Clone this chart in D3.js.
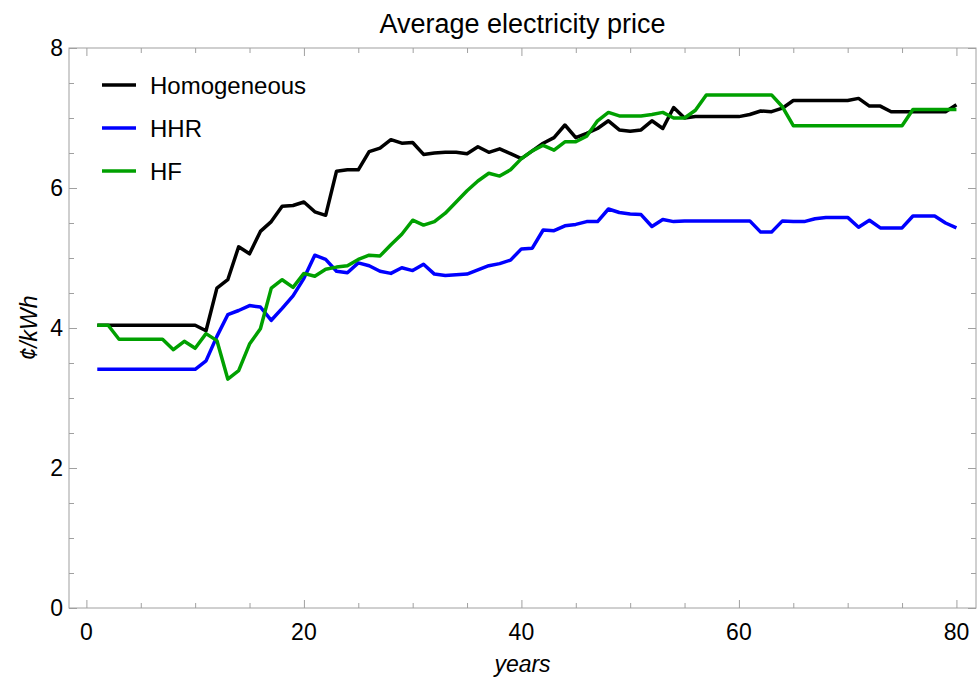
<!DOCTYPE html>
<html>
<head>
<meta charset="utf-8">
<script src="https://cdn.jsdelivr.net/npm/d3@7"></script>
<style>
  html, body { margin: 0; padding: 0; background: #fff; }
  svg { display: block; font-family: 'Liberation Sans', Arial, sans-serif; }
</style>
</head>
<body>
<div id="chart"></div>
<script>
// Values, one per year (1..80)
const years = d3.range(1, 81);

const homogeneous = [
  4.04, 4.04, 4.04, 4.04, 4.04, 4.04, 4.04, 4.04, 4.04, 4.04,
  3.96, 4.57, 4.69, 5.16, 5.06, 5.38, 5.52, 5.74, 5.75, 5.80,
  5.66, 5.61, 6.24, 6.26, 6.26, 6.52, 6.57, 6.69, 6.64, 6.65,
  6.48, 6.50, 6.51, 6.51, 6.49, 6.59, 6.51, 6.56, 6.49, 6.42,
  6.53, 6.64, 6.72, 6.90, 6.72, 6.78, 6.85, 6.96, 6.83, 6.81,
  6.83, 6.96, 6.85, 7.15, 7.00, 7.02, 7.02, 7.02, 7.02, 7.02,
  7.05, 7.10, 7.09, 7.14, 7.25, 7.25, 7.25, 7.25, 7.25, 7.25,
  7.28, 7.17, 7.17, 7.09, 7.09, 7.09, 7.09, 7.09, 7.09, 7.19
];

const hhr = [
  3.41, 3.41, 3.41, 3.41, 3.41, 3.41, 3.41, 3.41, 3.41, 3.41,
  3.53, 3.88, 4.19, 4.25, 4.32, 4.30, 4.11, 4.28, 4.46, 4.71,
  5.04, 4.98, 4.81, 4.79, 4.93, 4.89, 4.81, 4.78, 4.86, 4.82,
  4.91, 4.77, 4.75, 4.76, 4.77, 4.83, 4.89, 4.92, 4.97, 5.13,
  5.14, 5.40, 5.39, 5.46, 5.48, 5.52, 5.52, 5.70, 5.65, 5.63,
  5.62, 5.45, 5.55, 5.52, 5.53, 5.53, 5.53, 5.53, 5.53, 5.53,
  5.53, 5.37, 5.37, 5.53, 5.52, 5.52, 5.56, 5.58, 5.58, 5.58,
  5.44, 5.54, 5.43, 5.43, 5.43, 5.60, 5.60, 5.60, 5.50, 5.43
];

const hf = [
  4.04, 4.04, 3.84, 3.84, 3.84, 3.84, 3.84, 3.69, 3.81, 3.71,
  3.92, 3.82, 3.27, 3.39, 3.77, 3.99, 4.57, 4.69, 4.58, 4.78,
  4.74, 4.84, 4.87, 4.89, 4.98, 5.04, 5.03, 5.19, 5.34, 5.54,
  5.47, 5.52, 5.64, 5.80, 5.96, 6.10, 6.21, 6.17, 6.26, 6.42,
  6.53, 6.61, 6.54, 6.66, 6.66, 6.74, 6.96, 7.08, 7.03, 7.03,
  7.03, 7.05, 7.08, 7.00, 7.00, 7.11, 7.33, 7.33, 7.33, 7.33,
  7.33, 7.33, 7.33, 7.16, 6.89, 6.89, 6.89, 6.89, 6.89, 6.89,
  6.89, 6.89, 6.89, 6.89, 6.89, 7.12, 7.12, 7.12, 7.12, 7.12
];

const xMajorTicks = [0, 20, 40, 60, 80];
const yMajorTicks = [0, 2, 4, 6, 8];

const seriesNames = ['Homogeneous', 'HHR', 'HF'];
const seriesValues = [homogeneous, hhr, hf];
const seriesColors = ['#000000', '#0000ff', '#00a000'];

const width = 979;
const height = 679;
const margin = { top: 48, right: 3, bottom: 71, left: 69 };
const innerW = width - margin.left - margin.right;
const innerH = height - margin.top - margin.bottom;

const x = d3.scaleLinear().domain([-1.6, 81.8]).range([0, innerW]);
const y = d3.scaleLinear().domain([0, 8]).range([innerH, 0]);

const xMinor = d3.range(0, 81, 5).filter(v => !xMajorTicks.includes(v));
const yMinor = d3.range(0, 8.01, 0.5).filter(v => !yMajorTicks.includes(v));

const root = d3.select('#chart')
  .append('svg')
  .attr('width', width)
  .attr('height', height);

const svg = root.append('g')
  .attr('transform', `translate(${margin.left},${margin.top})`);

const frameColor = '#a0a0a0';

// Ticks on all four sides, pointing inward
const tickAxis = (axis, values, size, transform) => {
  svg.append('g')
    .attr('transform', transform || null)
    .call(axis.tickValues(values).tickSize(size).tickFormat(''))
    .call(g => g.select('.domain').remove())
    .call(g => g.selectAll('.tick line').attr('stroke', frameColor).attr('stroke-width', 1));
};

tickAxis(d3.axisBottom(x), xMajorTicks, -8, `translate(0,${innerH})`);
tickAxis(d3.axisBottom(x), xMinor, -5, `translate(0,${innerH})`);
tickAxis(d3.axisTop(x), xMajorTicks, -8);
tickAxis(d3.axisTop(x), xMinor, -5);
tickAxis(d3.axisLeft(y), yMajorTicks, -8);
tickAxis(d3.axisLeft(y), yMinor, -5);
tickAxis(d3.axisRight(y), yMajorTicks, -8, `translate(${innerW},0)`);
tickAxis(d3.axisRight(y), yMinor, -5, `translate(${innerW},0)`);

// Frame
svg.append('rect')
  .attr('x', 0).attr('y', 0)
  .attr('width', innerW).attr('height', innerH)
  .attr('fill', 'none')
  .attr('stroke', frameColor)
  .attr('stroke-width', 1);

// Tick labels
svg.append('g')
  .selectAll('text')
  .data(xMajorTicks)
  .join('text')
  .attr('x', d => x(d))
  .attr('y', innerH + 32)
  .attr('text-anchor', 'middle')
  .attr('font-size', '23px')
  .attr('fill', '#000')
  .text(d => d);

svg.append('g')
  .selectAll('text')
  .data(yMajorTicks)
  .join('text')
  .attr('x', -6)
  .attr('y', d => y(d))
  .attr('dy', '0.36em')
  .attr('text-anchor', 'end')
  .attr('font-size', '23px')
  .attr('fill', '#000')
  .text(d => d);

// Lines
const line = d3.line()
  .x((d, i) => x(years[i]))
  .y(d => y(d));

seriesValues.forEach((vals, i) => {
  svg.append('path')
    .datum(vals)
    .attr('fill', 'none')
    .attr('stroke', seriesColors[i])
    .attr('stroke-width', 3.5)
    .attr('stroke-linejoin', 'round')
    .attr('d', line);
});

// Legend
const legend = root.append('g');
seriesNames.forEach((name, i) => {
  const ly = 85 + i * 43;
  legend.append('line')
    .attr('x1', 102).attr('x2', 136)
    .attr('y1', ly).attr('y2', ly)
    .attr('stroke', seriesColors[i])
    .attr('stroke-width', 3.5);
  legend.append('text')
    .attr('x', 150)
    .attr('y', ly)
    .attr('dy', '0.36em')
    .attr('font-size', '24px')
    .attr('fill', '#000')
    .text(name);
});

// Title
root.append('text')
  .attr('x', margin.left + innerW / 2)
  .attr('y', 33)
  .attr('text-anchor', 'middle')
  .attr('font-size', '27px')
  .attr('fill', '#000')
  .text('Average electricity price');

// Axis labels
root.append('text')
  .attr('x', margin.left + innerW / 2)
  .attr('y', 672)
  .attr('text-anchor', 'middle')
  .attr('font-size', '23px')
  .attr('font-style', 'italic')
  .attr('fill', '#000')
  .text('years');

root.append('text')
  .attr('transform', `translate(37,${margin.top + innerH / 2}) rotate(-90)`)
  .attr('text-anchor', 'middle')
  .attr('font-size', '23px')
  .attr('font-style', 'italic')
  .attr('fill', '#000')
  .text('¢/kWh');
</script>
</body>
</html>
